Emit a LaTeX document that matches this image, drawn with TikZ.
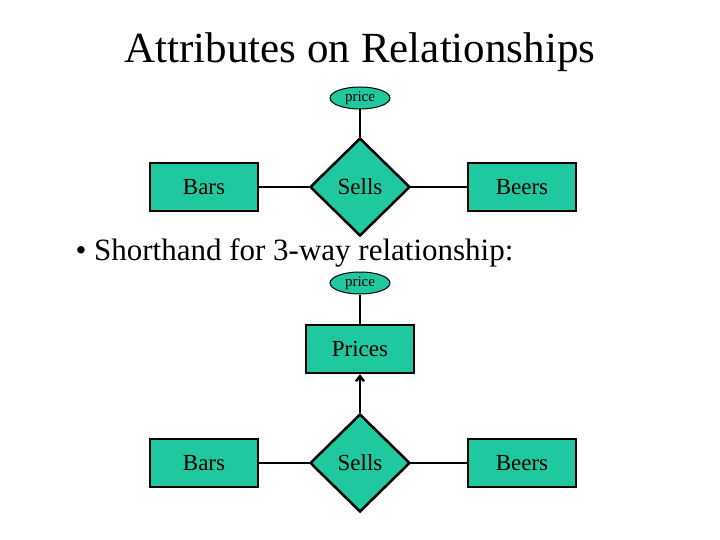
\documentclass[tikz,border=0pt]{standalone}
\usepackage{tikz}
\usepackage{fontspec}
\setmainfont{Liberation Serif}
\usetikzlibrary{shapes.geometric,arrows.meta}
\definecolor{erteal}{RGB}{32,200,160}
\tikzset{
  entity/.style={draw,line width=2.5pt,fill=erteal,minimum width=108pt,minimum height=48pt,inner sep=0pt,font=\fontsize{23}{26}\selectfont},
  relship/.style={draw,line width=2.5pt,fill=erteal,diamond,minimum width=100pt,minimum height=98pt,inner sep=0pt,font=\fontsize{23}{26}\selectfont},
  attr/.style={draw,line width=1pt,fill=erteal,ellipse,minimum width=60pt,minimum height=22pt,inner sep=0pt,font=\fontsize{15}{17}\selectfont},
  link/.style={line width=2.5pt}
}
\begin{document}
\begin{tikzpicture}[x=1pt,y=-1pt]
\useasboundingbox (0,0) rectangle (720,540);
  \node (title) at (360,52) {\fontsize{43}{48}\selectfont Attributes on Relationships};
  % top: relationship with attribute
  \node[attr] (price) at (360,98) {price};
  \node[relship] (sells) at (360,187) {Sells};
  \node[entity] (bars) at (204,187) {Bars};
  \node[entity] (beers) at (522,187) {Beers};
  \draw[link] (price) -- (sells);
  \draw[link] (bars) -- (sells);
  \draw[link] (sells) -- (beers);
  % bullet
  \node[anchor=west] (note) at (72,253) {\fontsize{31}{35}\selectfont \textbullet\ Shorthand for 3-way relationship:};
  % bottom: 3-way version
  \node[attr] (price2) at (360,283) {price};
  \node[entity] (prices) at (360,349) {Prices};
  \node[relship] (sells2) at (360,463) {Sells};
  \node[entity] (bars2) at (204,463) {Bars};
  \node[entity] (beers2) at (522,463) {Beers};
  \draw[link] (price2) -- (prices);
  \draw[link,-{Straight Barb[length=5pt,width=8pt]}] (sells2) -- (prices);
  \draw[link] (bars2) -- (sells2);
  \draw[link] (sells2) -- (beers2);
\end{tikzpicture}
\end{document}
